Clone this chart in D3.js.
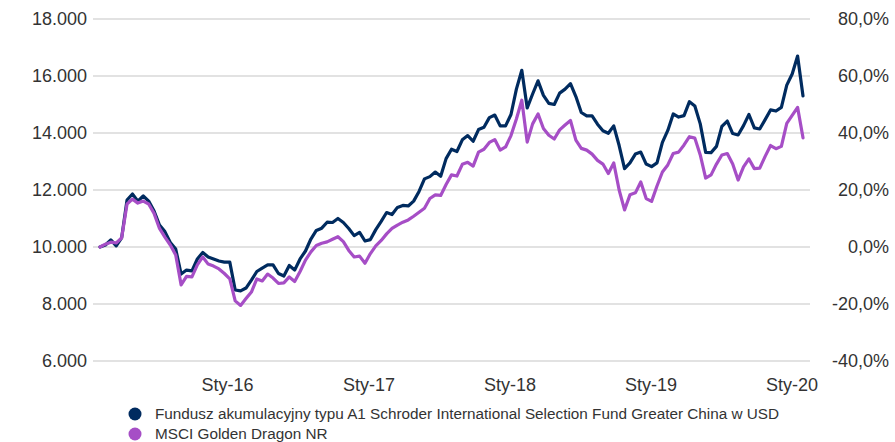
<!DOCTYPE html>
<html lang="pl">
<head>
<meta charset="UTF-8">
<title>Schroder ISF Greater China</title>
<script src="https://cdnjs.cloudflare.com/ajax/libs/d3/7.8.5/d3.min.js"></script>
<style>
    body { margin: 0; background: #fff; font-family: "Liberation Sans", Arial, sans-serif; }
    .tick text { fill: #333; }
</style>
</head>
<body>
<div id="chart"></div>
<script>
// wartości funduszu i benchmarku (co 2 tygodnie, od 6 lut 2015)
var fund = [10000,10070,10250,10040,10320,11650,11860,11610,11790,11610,
    11260,10770,10540,10160,9930,9050,9190,9160,9580,9810,
    9650,9580,9510,9470,9470,8490,8460,8560,8840,9140,
    9260,9370,9370,9070,8980,9350,9190,9580,9860,10280,
    10580,10660,10870,10860,11000,10860,10650,10400,10510,10210,
    10260,10610,10900,11210,11140,11390,11460,11440,11610,11950,
    12390,12470,12630,12480,13100,13430,13350,13760,13910,13710,
    14120,14200,14540,14630,14250,14250,14650,15540,16200,14880,
    15370,15830,15320,15040,15000,15400,15540,15730,15280,14720,
    14600,14600,14310,14080,13990,14250,13560,12750,12950,13260,
    13330,12910,12820,12950,13670,14090,14670,14560,14610,15100,
    14950,14320,13320,13310,13530,14230,14420,13980,13930,14260,
    14650,14180,14140,14470,14810,14770,14900,15680,16070,16700,15300];

var bench = [10000,10100,10170,10140,10320,11510,11680,11540,11610,11510,
    11180,10650,10350,10070,9720,8670,8970,8950,9370,9650,
    9400,9330,9230,9070,8880,8110,7950,8190,8420,8880,
    8810,9050,8910,8720,8740,8950,8790,9140,9540,9830,
    10050,10130,10180,10270,10360,10190,9880,9650,9680,9430,
    9770,10040,10230,10460,10650,10770,10870,10950,11080,11220,
    11360,11700,11830,11810,12190,12530,12490,12900,12970,12840,
    13330,13430,13670,13770,13400,13510,13910,14490,15150,13680,
    14320,14670,14160,13920,13790,14110,14280,14440,13750,13460,
    13400,13260,13040,12910,12580,12950,12000,11300,11830,11900,
    12280,11700,11600,12140,12630,12880,13280,13330,13580,13870,
    13820,13230,12420,12530,12910,13230,13280,12910,12350,12810,
    13090,12750,12770,13180,13560,13450,13530,14340,14620,14900,13830];

var leftTicks = [6000, 8000, 10000, 12000, 14000, 16000, 18000];
var rightTicks = [-40, -20, 0, 20, 40, 60, 80];
var xLabels = ["Sty-16", "Sty-17", "Sty-18", "Sty-19", "Sty-20"];
var xTickDates = [new Date(2016,0,1), new Date(2017,0,1), new Date(2018,0,1), new Date(2019,0,1), new Date(2020,0,1)];
var seriesNames = ["Fundusz akumulacyjny typu A1 Schroder International Selection Fund Greater China w USD", "MSCI Golden Dragon NR"];
var colors = ["#002b5f", "#a64ec6"];

var width = 895, height = 442;
var startDate = new Date(2015, 1, 6);
var dates = d3.range(fund.length).map(function(i){ return d3.timeDay.offset(startDate, i * 14); });

var pl = d3.formatLocale({decimal: ",", thousands: ".", grouping: [3], currency: ["", " zł"], minus: "-"});
var fmtLeft = pl.format(",.0f");
var fmtRight = pl.format(".1f");

var svg = d3.select("#chart").append("svg").attr("width", width).attr("height", height);

var x = d3.scaleTime().domain([dates[0], dates[dates.length - 1]]).range([100, 803]);
var yL = d3.scaleLinear().domain([6000, 18000]).range([361, 19]);
var yR = d3.scaleLinear().domain([-40, 80]).range([361, 19]);

// linie siatki
svg.append("g").selectAll("line").data(leftTicks).enter().append("line")
    .attr("x1", 93).attr("x2", 810)
    .attr("y1", function(d){ return yL(d); }).attr("y2", function(d){ return yL(d); })
    .attr("stroke", "#e2e2e2").attr("stroke-width", 2);

// oś lewa
var gl = svg.append("g").attr("transform", "translate(87,0)")
    .call(d3.axisLeft(yL).tickValues(leftTicks).tickFormat(fmtLeft).tickSize(0).tickPadding(0));
gl.select(".domain").remove();
gl.selectAll("text").style("font-size", "18px").style("font-family", "Liberation Sans, Arial, sans-serif");

// oś prawa
var gr = svg.append("g").attr("transform", "translate(889,0)")
    .call(d3.axisRight(yR).tickValues(rightTicks).tickFormat(function(d){ return fmtRight(d) + "%"; }).tickSize(0).tickPadding(0));
gr.select(".domain").remove();
gr.selectAll("text").attr("text-anchor", "end").style("font-size", "18px").style("font-family", "Liberation Sans, Arial, sans-serif");

// oś dolna
var gx = svg.append("g").attr("transform", "translate(0,361)")
    .call(d3.axisBottom(x).tickValues(xTickDates).tickFormat(function(d, i){ return xLabels[i]; }).tickSize(0).tickPadding(17));
gx.select(".domain").remove();
gx.selectAll("text").style("font-size", "18px").style("font-family", "Liberation Sans, Arial, sans-serif");

var line = d3.line()
    .x(function(d, i){ return x(dates[i]); })
    .y(function(d){ return yL(d); });

[fund, bench].forEach(function(s, k){
    svg.append("path").datum(s)
        .attr("d", line)
        .attr("fill", "none")
        .attr("stroke", colors[k])
        .attr("stroke-width", 3.2)
        .attr("stroke-linejoin", "round")
        .attr("stroke-linecap", "round");
});

// legenda
var leg = svg.append("g").selectAll("g").data(seriesNames).enter().append("g")
    .attr("transform", function(d, i){ return "translate(135," + (414 + i * 20) + ")"; });
leg.append("circle").attr("r", 6.5).attr("fill", function(d, i){ return colors[i]; });
leg.append("text").attr("x", 20).attr("dy", "0.35em")
    .style("font-size", "15.3px").style("fill", "#333")
    .text(function(d){ return d; });
</script>
</body>
</html>
